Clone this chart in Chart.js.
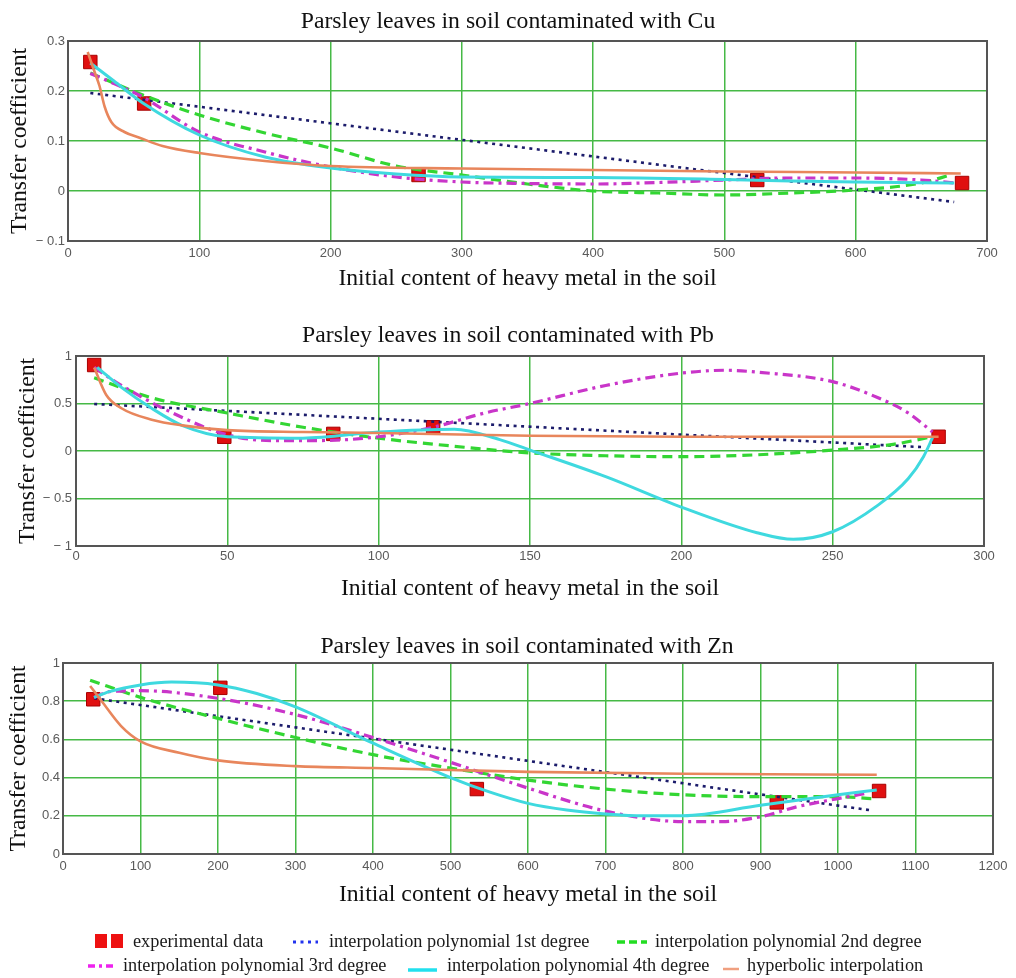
<!DOCTYPE html>
<html>
<head>
<meta charset="utf-8">
<title>Parsley leaves transfer coefficient</title>
<script src="https://cdn.jsdelivr.net/npm/chart.js@4"></script>
<style>
  html, body { margin: 0; padding: 0; background: #fff; }
  #page { position: relative; width: 1016px; height: 978px; overflow: hidden; }
  .panel { position: absolute; left: 0; }
  .ptitle { position: absolute; transform: translateX(-50%); font: 23.7px 'Liberation Serif', serif; line-height: 28px; color: #111; white-space: nowrap; }
  .lt { position: absolute; font: 18.3px 'Liberation Serif', serif; line-height: 22px; color: #1a1a1a; white-space: nowrap; }
  #legend-marks { position: absolute; left: 0; top: 0; pointer-events: none; }
</style>
</head>
<body>
<div id="page">
  <canvas id="cu" class="panel" style="top:0px" width="1016" height="300"></canvas>
  <canvas id="pb" class="panel" style="top:310px" width="1016" height="300"></canvas>
  <canvas id="zn" class="panel" style="top:620px" width="1016" height="295"></canvas>

  <div class="ptitle" style="left:508px;top:6px">Parsley leaves in soil contaminated with Cu</div>
  <div class="ptitle" style="left:508px;top:320px">Parsley leaves in soil contaminated with Pb</div>
  <div class="ptitle" style="left:527px;top:631px">Parsley leaves in soil contaminated with Zn</div>

  <svg id="legend-marks" width="1016" height="978">
    <rect x="95" y="934" width="12" height="14" fill="#ee1111"/>
    <rect x="111" y="934" width="12" height="14" fill="#ee1111"/>
    <line x1="293" y1="942" x2="318" y2="942" stroke="#2233ee" stroke-width="3" stroke-dasharray="3 4.5"/>
    <line x1="617" y1="942" x2="647" y2="942" stroke="#22dd22" stroke-width="3.5" stroke-dasharray="8 4"/>
    <line x1="88" y1="966" x2="115" y2="966" stroke="#ee22ee" stroke-width="3.5" stroke-dasharray="7 4 3 4"/>
    <line x1="408" y1="970" x2="437" y2="970" stroke="#22e0ee" stroke-width="3.5"/>
    <line x1="723" y1="969" x2="739" y2="969" stroke="#f0a080" stroke-width="2.5"/>
  </svg>
  <span class="lt" style="left:133px;top:930px">experimental data</span>
  <span class="lt" style="left:329px;top:930px">interpolation polynomial 1st degree</span>
  <span class="lt" style="left:655px;top:930px">interpolation polynomial 2nd degree</span>
  <span class="lt" style="left:123px;top:954px">interpolation polynomial 3rd degree</span>
  <span class="lt" style="left:447px;top:954px">interpolation polynomial 4th degree</span>
  <span class="lt" style="left:747px;top:954px">hyperbolic interpolation</span>
</div>

<script>
// ---- Cu ----
const cuExp = [[17, 0.258], [58, 0.175], [267, 0.032], [525, 0.022], [681, 0.016]];
const cuPoly1 = [[17, 0.196], [675, -0.022]];
const cuPoly2 = [[17, 0.236], [57, 0.192], [100, 0.152], [150, 0.116], [200, 0.086], [250, 0.05], [300, 0.032],
  [350, 0.014], [400, 0.0], [450, -0.004], [500, -0.008], [550, -0.004], [600, 0.002], [650, 0.016], [672, 0.032]];
const cuPoly3 = [[17, 0.235], [35, 0.215], [57, 0.188], [100, 0.118], [150, 0.078], [200, 0.048], [250, 0.028],
  [300, 0.018], [350, 0.015], [400, 0.014], [450, 0.017], [500, 0.022], [550, 0.026], [600, 0.026], [650, 0.022], [675, 0.016]];
const cuPoly4 = [[17, 0.256], [35, 0.22], [57, 0.176], [100, 0.112], [150, 0.068], [200, 0.046], [250, 0.034],
  [300, 0.028], [400, 0.027], [500, 0.023], [550, 0.02], [600, 0.018], [675, 0.016]];
const cuHyper = [[15, 0.278], [20, 0.24], [24, 0.21], [28, 0.168], [33, 0.138], [43, 0.118], [55, 0.106], [72, 0.09],
  [100, 0.076], [150, 0.06], [200, 0.05], [300, 0.045], [400, 0.042], [500, 0.039], [600, 0.037], [680, 0.035]];

// ---- Pb ----
const pbExp = [[6, 0.905], [49, 0.15], [85, 0.18], [118, 0.25], [285, 0.15]];
const pbPoly1 = [[6, 0.495], [280, 0.04]];
const pbPoly2 = [[6, 0.77], [25, 0.56], [50, 0.40], [75, 0.25], [100, 0.135], [125, 0.05], [150, -0.02], [175, -0.05],
  [200, -0.06], [225, -0.04], [250, 0.01], [270, 0.07], [283, 0.15]];
const pbPoly3 = [[6, 0.88], [14, 0.71], [30, 0.43], [50, 0.17], [65, 0.11], [80, 0.11], [100, 0.15], [118, 0.25],
  [135, 0.4], [150, 0.5], [175, 0.69], [200, 0.82], [215, 0.85], [225, 0.83], [250, 0.73], [265, 0.56], [275, 0.4], [283, 0.2]];
const pbPoly4 = [[7, 0.88], [15, 0.67], [25, 0.45], [35, 0.27], [50, 0.15], [75, 0.135], [100, 0.2], [125, 0.23],
  [140, 0.12], [150, 0.01], [175, -0.27], [200, -0.59], [225, -0.86], [237, -0.93], [250, -0.85], [265, -0.57],
  [275, -0.29], [280, -0.06], [283, 0.14]];
const pbHyper = [[6, 0.88], [10, 0.59], [15, 0.45], [25, 0.33], [35, 0.27], [50, 0.22], [75, 0.2], [100, 0.19],
  [150, 0.16], [200, 0.15], [285, 0.15]];

// ---- Zn ----
const znExp = [[39, 0.81], [203, 0.87], [534, 0.34], [921, 0.27], [1053, 0.33]];
const znPoly1 = [[40, 0.815], [1040, 0.23]];
const znPoly2 = [[35, 0.91], [100, 0.82], [200, 0.71], [300, 0.61], [400, 0.52], [500, 0.45], [600, 0.387],
  [700, 0.34], [800, 0.31], [900, 0.30], [1000, 0.30], [1043, 0.29]];
const znPoly3 = [[40, 0.82], [60, 0.85], [100, 0.855], [200, 0.815], [300, 0.73], [400, 0.61], [500, 0.48],
  [600, 0.345], [700, 0.225], [800, 0.17], [850, 0.17], [900, 0.195], [950, 0.25], [1000, 0.29], [1040, 0.32]];
const znPoly4 = [[40, 0.82], [60, 0.85], [100, 0.885], [140, 0.9], [200, 0.885], [250, 0.84], [300, 0.77],
  [400, 0.58], [500, 0.40], [550, 0.325], [600, 0.265], [650, 0.23], [700, 0.21], [750, 0.2], [800, 0.2],
  [900, 0.255], [1000, 0.31], [1050, 0.335]];
const znHyper = [[35, 0.88], [50, 0.8], [75, 0.67], [100, 0.59], [150, 0.53], [200, 0.49], [300, 0.46], [400, 0.45],
  [500, 0.44], [600, 0.43], [800, 0.42], [1050, 0.415]];

const SERIF = "'Liberation Serif', 'Times New Roman', serif";
const SANS = "'Liberation Sans', Arial, sans-serif";
const LABEL_SIZE = 23.7;

function curve(data, color, width, dash, smooth) {
  return {
    data: data.map(([x, y]) => ({ x, y })),
    showLine: true,
    borderColor: color,
    borderWidth: width,
    borderDash: dash,
    pointRadius: 0,
    fill: false,
    tension: smooth ? 0.4 : 0,
    cubicInterpolationMode: smooth ? 'monotone' : 'default',
  };
}

function points(data) {
  return {
    data: data.map(([x, y]) => ({ x, y })),
    showLine: false,
    pointStyle: 'rect',
    pointRadius: 9.5,
    pointBackgroundColor: '#e01010',
    pointBorderColor: '#a80000',
    pointBorderWidth: 1,
  };
}

function tickLabel(v) {
  const r = Math.round(v * 1000) / 1000;
  return r < 0 ? `\u2212 ${Math.abs(r)}` : `${r}`;
}

// dark frame round the plot area, as in the original
const frame = {
  id: 'frame',
  afterDraw(chart) {
    const { ctx, chartArea: a } = chart;
    ctx.save();
    ctx.strokeStyle = '#555';
    ctx.lineWidth = 2;
    ctx.strokeRect(a.left, a.top, a.right - a.left, a.bottom - a.top);
    ctx.restore();
  }
};

function makePanel(id, cfg) {
  const ds = [
    curve(cfg.hyper, '#e8865c', 2.6, [], true),
    curve(cfg.poly4, '#3fd9df', 3, [], true),
    curve(cfg.poly3, '#c935c9', 3.2, [10, 5, 3, 5], true),
    curve(cfg.poly2, '#33d633', 3.2, [10, 6], true),
    curve(cfg.poly1, '#1c1c6b', 2.6, [3, 4.5], false),
    points(cfg.exp),
  ];
  const grid = { color: '#46b946', lineWidth: 1.5, drawTicks: false };
  return new Chart(document.getElementById(id), {
    type: 'scatter',
    data: { datasets: ds },
    plugins: [frame],
    options: {
      responsive: false,
      animation: false,
      events: [],
      layout: { padding: { left: 0, right: cfg.padRight, top: cfg.padTop, bottom: 0 } },
      plugins: {
        legend: { display: false },
        tooltip: { enabled: false },
        title: { display: false },
      },
      scales: {
        x: {
          type: 'linear',
          min: cfg.xMin, max: cfg.xMax,
          grid,
          border: { display: false },
          ticks: {
            stepSize: cfg.xStep, autoSkip: false, maxRotation: 0,
            padding: cfg.xTickPad, color: '#5a5a5a',
            font: { family: SANS, size: 13 },
            callback: tickLabel,
          },
          title: {
            display: true,
            text: 'Initial content of heavy metal in the soil',
            color: '#111',
            font: { family: SERIF, size: LABEL_SIZE },
            padding: { top: 0, bottom: cfg.xTitlePad },
          },
          afterFit(scale) { scale.height = cfg.xHeight; },
        },
        y: {
          type: 'linear',
          min: cfg.yMin, max: cfg.yMax,
          grid,
          border: { display: false },
          ticks: {
            stepSize: cfg.yStep,
            padding: cfg.yTickPad, color: '#5a5a5a',
            font: { family: SANS, size: 13 },
            callback: tickLabel,
          },
          title: {
            display: true,
            text: 'Transfer coefficient',
            color: '#111',
            font: { family: SERIF, size: LABEL_SIZE },
            padding: { top: cfg.yTitlePad, bottom: 0 },
          },
          afterFit(scale) { scale.width = cfg.yWidth; },
        },
      },
    },
  });
}

makePanel('cu', {
  exp: cuExp, poly1: cuPoly1, poly2: cuPoly2, poly3: cuPoly3, poly4: cuPoly4, hyper: cuHyper,
  xMin: 0, xMax: 700, xStep: 100, yMin: -0.1, yMax: 0.3, yStep: 0.1,
  padRight: 29, padTop: 41,
  yWidth: 68, yTitlePad: 5.8, yTickPad: 3,
  xHeight: 59, xTitlePad: 6.8, xTickPad: 5,
});

makePanel('pb', {
  exp: pbExp, poly1: pbPoly1, poly2: pbPoly2, poly3: pbPoly3, poly4: pbPoly4, hyper: pbHyper,
  xMin: 0, xMax: 300, xStep: 50, yMin: -1, yMax: 1, yStep: 0.5,
  padRight: 32, padTop: 46,
  yWidth: 76, yTitlePad: 13.3, yTickPad: 4,
  xHeight: 64, xTitlePad: 6.8, xTickPad: 3,
});

makePanel('zn', {
  exp: znExp, poly1: znPoly1, poly2: znPoly2, poly3: znPoly3, poly4: znPoly4, hyper: znHyper,
  xMin: 0, xMax: 1200, xStep: 100, yMin: 0, yMax: 1, yStep: 0.2,
  padRight: 23, padTop: 43,
  yWidth: 63, yTitlePad: 4.3, yTickPad: 3,
  xHeight: 61, xTitlePad: 5.8, xTickPad: 5,
});
</script>
</body>
</html>
